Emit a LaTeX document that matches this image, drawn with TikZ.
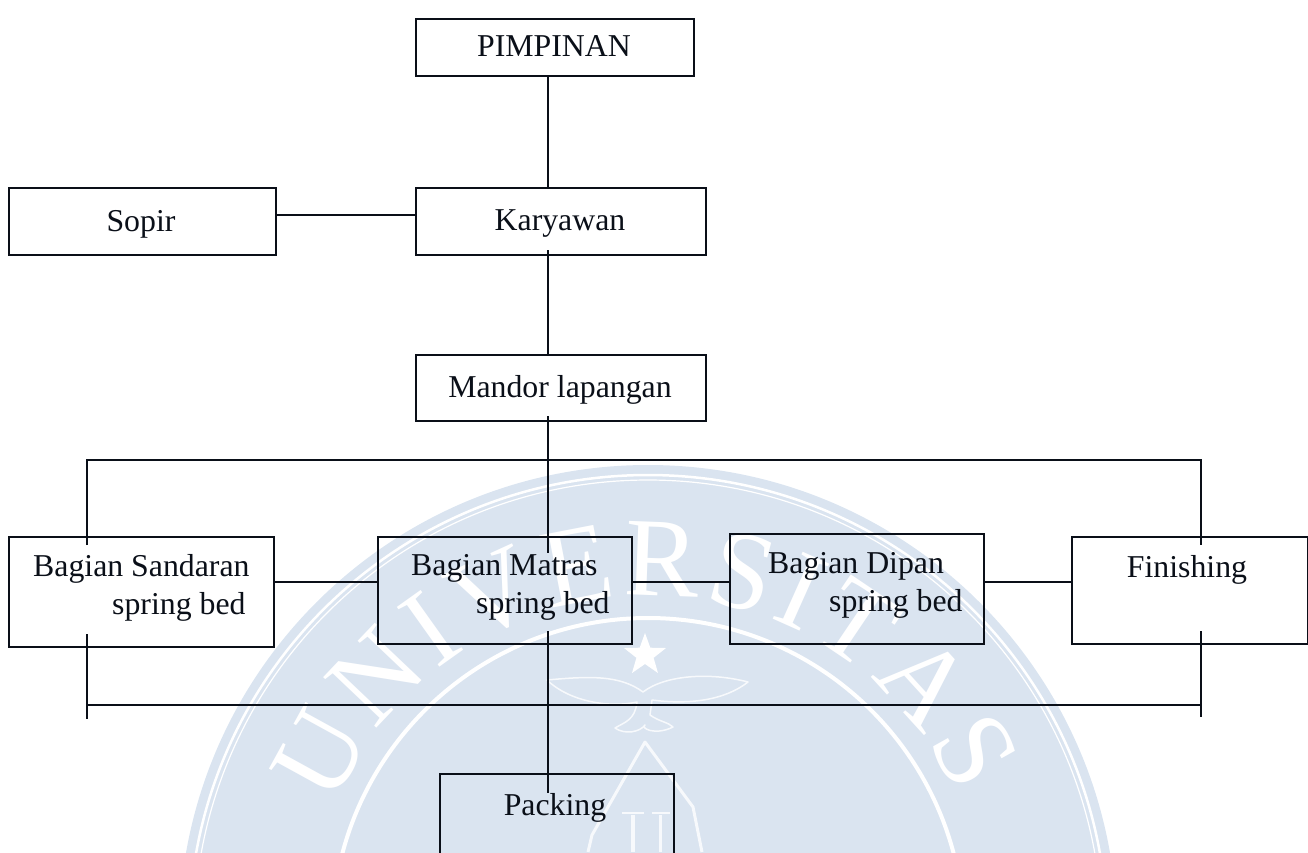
\documentclass[tikz,border=0pt]{standalone}
\usepackage{fontspec}
\setmainfont{Liberation Serif}
\usetikzlibrary{decorations.text}
\newfontfamily\wmfont{Liberation Serif}
\definecolor{wmblue}{HTML}{DAE4F0}
\definecolor{inkc}{HTML}{0A0F18}
\tikzset{
  box/.style={draw=inkc,line width=1.8pt,inner sep=0pt,anchor=north west},
  lbl/.style={font=\fontsize{31.8}{38}\selectfont,text=inkc,inner sep=0pt,align=left},
  conn/.style={draw=inkc,line width=2pt},
  ring/.style={draw=white,line cap=round},
  wmline/.style={draw=white,line join=round,opacity=.8}
}
\begin{document}
\begin{tikzpicture}[x=1pt,y=-1pt]
\useasboundingbox (0,0) rectangle (1308,852);
% watermark
\begin{scope}
\clip (0,0) rectangle (1308,852);
\fill[wmblue] (648,934) circle[radius=469pt];
\draw[ring,line width=2.5pt] (648,934) circle[radius=459pt];
\draw[ring,line width=1.2pt] (648,934) circle[radius=454pt];
\draw[ring,line width=4pt] (648,934) circle[radius=316pt];
\path[decorate,decoration={text along path,text align={fit to path},
  text={|\wmfont\fontsize{112}{112}\selectfont\color{white}|UNIVERSITAS}}]
  (334.6,807.4) arc[start angle=158,end angle=24,radius=338pt];
\fill[white] (645,633)--(650.3,647.7)--(666,648)--(653.6,657.8)--(658,673)--(645,664)--(632,673)--(636.4,657.8)--(624,648)--(639.7,647.7)--cycle;
% wings and tail
\draw[wmline,line width=1.5pt] (547,680) .. controls (590,676) and (620,675) .. (643,692) .. controls (665,675) and (710,672) .. (748,682) .. controls (725,700) and (690,705) .. (652,700) -- (650,715) .. controls (660,722) and (668,722) .. (673,727) .. controls (655,736) and (640,728) .. (645,725) .. controls (640,732) and (625,735) .. (615,728) .. controls (625,722) and (635,720) .. (637,702) .. controls (610,708) and (570,702) .. (547,680) -- cycle;
% roof and pillars
\draw[wmline,line width=3pt] (588,852) -- (592,835) -- (645,742) -- (693,807) -- (702,852);
\draw[wmline,line width=4pt] (633,815) -- (633,852);
\draw[wmline,line width=3pt] (660,815) -- (660,852);
\draw[wmline,line width=1.5pt] (622,813) -- (644,813) (652,813) -- (670,813);
\end{scope}
% boxes
\node[box,minimum width=278pt,minimum height=57pt] (pimpinan) at (415,18) {};
\node[box,minimum width=267pt,minimum height=67pt] (sopir) at (8,187) {};
\node[box,minimum width=290pt,minimum height=67pt] (karyawan) at (415,187) {};
\node[box,minimum width=290pt,minimum height=66pt] (mandor) at (415,354) {};
\node[box,minimum width=265pt,minimum height=110pt] (sandaran) at (8,536) {};
\node[box,minimum width=254pt,minimum height=107pt] (matras) at (377,536) {};
\node[box,minimum width=254pt,minimum height=110pt] (dipan) at (729,533) {};
\node[box,minimum width=236pt,minimum height=107pt] (finishing) at (1071,536) {};
\node[box,minimum width=234pt,minimum height=110pt] (packing) at (439,773) {};
% labels
\node[lbl] (tpimpinan) at (554,46) {PIMPINAN};
\node[lbl] (tsopir) at (141,224) {Sopir};
\node[lbl] (tkaryawan) at (560,224) {Karyawan};
\node[lbl] (tmandor) at (560,390) {Mandor lapangan};
\node[lbl,anchor=north west] (tsandaran) at (33,554) {Bagian Sandaran\\\hspace*{79pt}spring bed};
\node[lbl,anchor=north west] (tmatras) at (411,554) {Bagian Matras\\\hspace*{65pt}spring bed};
\node[lbl,anchor=north west] (tdipan) at (768,552) {Bagian Dipan\\\hspace*{61pt}spring bed};
\node[lbl] (tfinishing) at (1187,570) {Finishing};
\node[lbl] (tpacking) at (555,808) {Packing};
% helper coordinates
\coordinate (spine) at (548,0);
\coordinate (rowk) at (0,215);
\coordinate (rowb) at (0,582);
\coordinate (bustl) at (87,460);
\coordinate (bustr) at (1201,460);
\coordinate (busbl) at (87,705);
\coordinate (busbr) at (1201,705);
\coordinate (kstub) at (548,250);
\coordinate (mstub) at (548,416);
\coordinate (mtop) at (548,553);
\coordinate (mbot) at (548,631);
\coordinate (ptop) at (548,793);
\coordinate (lin) at (87,545);
\coordinate (rin) at (1201,545);
\coordinate (lout) at (87,634);
\coordinate (rout) at (1201,631);
\coordinate (ltail) at (87,719);
\coordinate (rtail) at (1201,717);
% connectors
\draw[conn] (spine |- pimpinan.south) -- (spine |- karyawan.north);
\draw[conn] (sopir.east |- rowk) -- (karyawan.west |- rowk);
\draw[conn] (kstub) -- (spine |- mandor.north);
\draw[conn] (mstub) -- (mtop);
\draw[conn] (lin) -- (bustl) -- (bustr) -- (rin);
\draw[conn] (sandaran.east |- rowb) -- (matras.west |- rowb);
\draw[conn] (matras.east |- rowb) -- (dipan.west |- rowb);
\draw[conn] (dipan.east |- rowb) -- (finishing.west |- rowb);
\draw[conn] (lout) -- (ltail);
\draw[conn] (rout) -- (rtail);
\draw[conn] (busbl) -- (busbr);
\draw[conn] (mbot) -- (ptop);
\end{tikzpicture}
\end{document}
